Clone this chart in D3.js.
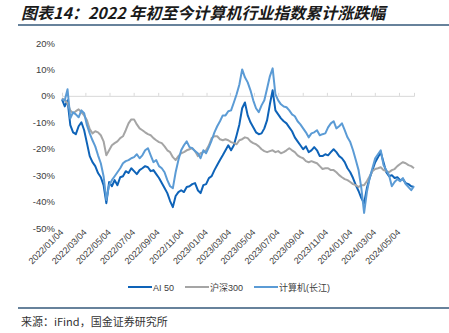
<!DOCTYPE html>
<html><head><meta charset="utf-8">
<script src="https://cdn.jsdelivr.net/npm/d3@7/dist/d3.min.js"></script>
<style>
html,body{margin:0;padding:0;background:#fff;}
svg{display:block;}
</style></head>
<body>
<svg id="chart" width="449" height="333"></svg>
<script>
const dates = [
"2022-01-04","2022-01-11","2022-01-18","2022-01-25","2022-02-01","2022-02-08","2022-02-15","2022-02-22",
"2022-03-01","2022-03-08","2022-03-15","2022-03-22","2022-03-29","2022-04-05","2022-04-12","2022-04-19","2022-04-26",
"2022-05-03","2022-05-10","2022-05-17","2022-05-24","2022-05-31","2022-06-07","2022-06-14","2022-06-21","2022-06-28",
"2022-07-05","2022-07-12","2022-07-19","2022-07-26","2022-08-02","2022-08-09","2022-08-16","2022-08-23","2022-08-30",
"2022-09-06","2022-09-13","2022-09-20","2022-09-27","2022-10-04","2022-10-11","2022-10-18","2022-10-25",
"2022-11-01","2022-11-08","2022-11-15","2022-11-22","2022-11-29","2022-12-06","2022-12-13","2022-12-20","2022-12-27",
"2023-01-03","2023-01-10","2023-01-17","2023-01-24","2023-01-31","2023-02-07","2023-02-14","2023-02-21","2023-02-28",
"2023-03-07","2023-03-14","2023-03-21","2023-03-28","2023-04-04","2023-04-11","2023-04-18","2023-04-25",
"2023-05-02","2023-05-09","2023-05-16","2023-05-23","2023-05-30","2023-06-06","2023-06-13","2023-06-20","2023-06-27",
"2023-07-04","2023-07-11","2023-07-18","2023-07-25","2023-08-01","2023-08-08","2023-08-15","2023-08-22","2023-08-29",
"2023-09-05","2023-09-12","2023-09-19","2023-09-26","2023-10-03","2023-10-10","2023-10-17","2023-10-24","2023-10-31",
"2023-11-07","2023-11-14","2023-11-21","2023-11-28","2023-12-05","2023-12-12","2023-12-19","2023-12-26",
"2024-01-02","2024-01-09","2024-01-16","2024-01-23","2024-01-30","2024-02-06","2024-02-13","2024-02-20","2024-02-27",
"2024-03-05","2024-03-12","2024-03-19","2024-03-26","2024-04-02","2024-04-09","2024-04-16","2024-04-23","2024-04-30",
"2024-05-07","2024-05-14","2024-05-21","2024-05-28","2024-06-04","2024-06-11"
];
const ai50 = [
-1.3,-4.0,-1.7,-11.1,-13.8,-14.5,-11.5,-10.0,-13.0,-17.9,
-22.8,-25.1,-26.6,-29.2,-30.8,-33.8,-40.6,-32.6,-34.2,-31.9,
-33.8,-30.8,-30.4,-28.5,-29.2,-27.4,-28.5,-29.6,-28.1,-27.4,
-26.6,-27.0,-28.5,-28.1,-29.6,-31.1,-33.0,-34.9,-36.8,-39.8,
-42.1,-37.9,-36.4,-35.7,-36.4,-34.5,-34.2,-33.4,-33.0,-35.7,
-36.8,-33.8,-33.4,-31.1,-30.4,-28.1,-26.2,-24.3,-22.5,-20.6,
-18.7,-20.6,-18.7,-14.9,-10.8,-4.7,-2.5,-7.4,-10.0,-11.9,
-13.8,-14.5,-14.2,-12.3,-9.2,-3.2,2.1,-5.5,-7.0,-8.5,
-9.6,-10.4,-11.9,-13.4,-15.7,-17.2,-18.7,-20.2,-19.1,-21.3,
-20.6,-19.4,-20.6,-22.8,-22.8,-22.1,-22.5,-21.3,-20.2,-21.3,
-22.8,-23.6,-25.1,-27.4,-28.9,-31.1,-33.8,-36.0,-38.7,-40.6,
-34.9,-31.1,-28.1,-25.1,-23.2,-21.3,-25.1,-28.9,-30.4,-30.0,
-31.1,-30.8,-31.9,-31.5,-33.0,-33.4,-34.2,-34.5
];
const hs300 = [
-0.9,-1.7,-2.8,-5.5,-6.6,-5.8,-5.1,-6.2,-7.4,-9.2,
-12.6,-14.2,-13.4,-13.8,-14.9,-17.2,-22.5,-20.6,-18.7,-17.9,
-17.2,-16.0,-15.3,-13.0,-10.4,-8.9,-8.9,-10.8,-12.3,-13.0,
-13.8,-14.5,-14.9,-16.0,-16.8,-17.5,-17.9,-19.1,-20.6,-21.3,
-23.2,-24.3,-22.8,-21.7,-21.3,-20.6,-20.2,-19.8,-20.9,-22.8,
-21.7,-21.3,-20.6,-18.7,-16.0,-15.3,-15.3,-16.4,-16.8,-16.4,
-16.8,-17.5,-17.9,-18.3,-16.8,-16.4,-15.7,-16.0,-17.2,-17.9,
-18.3,-19.1,-20.2,-20.9,-21.3,-20.9,-20.6,-21.3,-20.9,-21.7,
-21.3,-20.6,-19.8,-20.6,-21.3,-22.5,-23.2,-23.6,-24.7,-25.1,
-24.7,-25.1,-25.5,-26.6,-27.7,-27.4,-27.4,-28.1,-28.1,-28.9,
-30.0,-30.8,-31.5,-31.9,-32.6,-33.4,-33.8,-34.5,-33.8,-33.8,
-32.3,-30.4,-28.5,-27.7,-27.4,-27.0,-28.1,-28.5,-28.9,-28.1,
-27.7,-26.6,-25.8,-25.1,-25.5,-26.2,-26.6,-27.4
];
const computer = [
-1.3,-1.7,2.5,-8.5,-6.2,-7.0,-8.1,-5.5,-6.6,-11.1,
-14.2,-16.8,-19.1,-22.5,-25.5,-30.4,-39.4,-33.8,-31.9,-30.4,
-28.9,-27.4,-25.5,-24.7,-24.3,-23.6,-23.2,-22.1,-23.6,-22.5,
-20.6,-19.8,-22.5,-25.1,-24.3,-26.6,-27.4,-28.9,-31.9,-34.2,
-34.9,-28.9,-24.3,-20.6,-18.7,-17.2,-19.4,-19.8,-20.9,-21.7,
-23.6,-20.6,-21.7,-19.4,-16.8,-13.8,-11.5,-9.6,-7.4,-7.4,
-5.8,-5.5,-2.5,0.6,4.3,10.0,7.0,5.1,2.1,-1.7,
-4.7,-6.2,-3.6,-1.7,2.8,7.4,10.4,0.6,-1.7,-3.2,
-4.0,-4.3,-5.5,-7.0,-7.7,-9.6,-10.8,-12.3,-13.8,-15.7,
-14.2,-13.8,-13.0,-14.9,-14.5,-14.2,-11.9,-10.4,-9.6,-12.3,
-11.5,-10.4,-13.0,-15.7,-17.5,-20.6,-24.3,-28.1,-34.9,-44.3,
-36.4,-31.1,-27.4,-23.6,-22.1,-20.6,-26.2,-28.1,-30.0,-34.2,
-32.6,-31.5,-32.3,-31.1,-33.4,-34.5,-35.7,-34.2
];
const seriesNames = ["AI 50","沪深300","计算机(长江)"];
const seriesColors = ["#0E63B8","#A5A5A5","#5B9BD5"];
const yTicks = [20,10,0,-10,-20,-30,-40,-50];
const xTickLabels = ["2022/01/04","2022/03/04","2022/05/04","2022/07/04","2022/09/04","2022/11/04",
"2023/01/04","2023/03/04","2023/05/04","2023/07/04","2023/09/04","2023/11/04",
"2024/01/04","2024/03/04","2024/05/04"];
const titleText = "图表14：2022 年初至今计算机行业指数累计涨跌幅";
const sourceText = "来源：iFind，国金证券研究所";

const parse = d3.timeParse("%Y-%m-%d");
const parseTick = d3.timeParse("%Y/%m/%d");
const dts = dates.map(parse);
const svg = d3.select("#chart");
const font = "'Liberation Sans', Arial, 'Noto Sans CJK SC', sans-serif";

const x = d3.scaleTime().domain([dts[0], dts[dts.length-1]]).range([62, 414]);
const y = d3.scaleLinear().domain([-50, 20]).range([228, 43]);

// title
svg.append("text").attr("x", 21).attr("y", 18.5)
  .attr("font-family", "'Noto Sans CJK SC', sans-serif")
  .attr("font-size", 16).attr("font-weight", "bold").attr("font-style", "italic")
  .attr("fill", "#1a1a1a").text(titleText);
svg.append("line").attr("x1", 18).attr("x2", 449).attr("y1", 25).attr("y2", 25)
  .attr("stroke", "#34597a").attr("stroke-width", 1.5);

// y axis labels
const yAxis = d3.axisLeft(y).tickValues(yTicks).tickSize(0).tickPadding(0)
  .tickFormat(d => d + "%");
const gy = svg.append("g").attr("transform", "translate(55,0)").call(yAxis);
gy.select(".domain").remove();
gy.selectAll("text").attr("font-family", font).attr("font-size", 9.5).attr("fill", "#404040");

// x axis at zero
const tickDates = xTickLabels.map(parseTick);
const xAxis = d3.axisTop(x).tickValues(tickDates).tickSize(3).tickFormat("");
const gx = svg.append("g").attr("transform", `translate(0,${y(0)})`).call(xAxis);
gx.select(".domain").attr("stroke", "#d9d9d9").attr("stroke-width", 1);
gx.selectAll(".tick line").attr("stroke", "#d9d9d9");

// x labels at bottom, rotated
const gl = svg.append("g");
gl.selectAll("text").data(tickDates).enter().append("text")
  .attr("transform", (d, i) => `translate(${x(d)+2},${y(-50)+5}) rotate(-45)`)
  .attr("text-anchor", "end")
  .attr("font-family", font).attr("font-size", 9).attr("fill", "#404040")
  .text((d, i) => xTickLabels[i]);

// lines
const allSeries = [ai50, hs300, computer];
const line = d3.line().x((d, i) => x(dts[i])).y(d => y(d));
allSeries.forEach((s, j) => {
  svg.append("path").datum(s).attr("d", line)
    .attr("fill", "none").attr("stroke", seriesColors[j]).attr("stroke-width", 2)
    .attr("stroke-linejoin", "round");
});

// legend
const legendX = [128, 185, 254];
const lg = svg.append("g");
seriesNames.forEach((n, j) => {
  lg.append("line").attr("x1", legendX[j]).attr("x2", legendX[j] + 24)
    .attr("y1", 287).attr("y2", 287).attr("stroke", seriesColors[j]).attr("stroke-width", 2);
  lg.append("text").attr("x", legendX[j] + 25).attr("y", 290.5)
    .attr("font-family", font).attr("font-size", 9).attr("fill", "#404040").text(n);
});

// bottom line and source
svg.append("line").attr("x1", 18).attr("x2", 449).attr("y1", 308).attr("y2", 308)
  .attr("stroke", "#34597a").attr("stroke-width", 1.5);
svg.append("text").attr("x", 21).attr("y", 326)
  .attr("font-family", "'Noto Sans CJK SC', sans-serif").attr("font-size", 11)
  .attr("fill", "#333").text(sourceText);
</script>
</body></html>
